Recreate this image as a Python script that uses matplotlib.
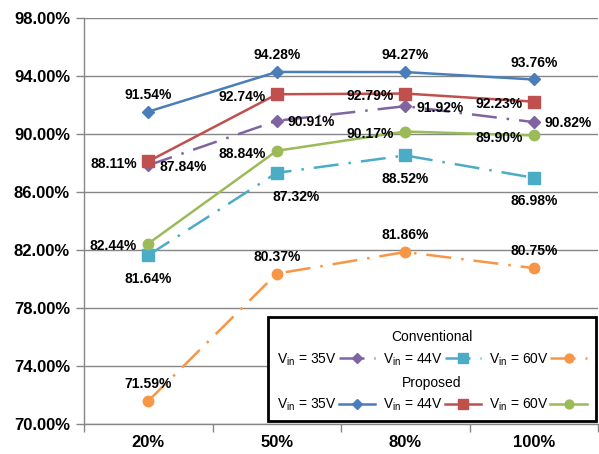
import matplotlib
matplotlib.use("Agg")
import matplotlib.pyplot as plt
from matplotlib.lines import Line2D
from matplotlib.patches import Rectangle

plt.rcParams['font.family'] = ['Liberation Sans', 'DejaVu Sans']
plt.rcParams['mathtext.fontset'] = 'custom'
plt.rcParams['mathtext.rm'] = 'Liberation Sans'
plt.rcParams['mathtext.it'] = 'Liberation Sans'

loads = ["20%", "50%", "80%", "100%"]
yticks = [70, 74, 78, 82, 86, 90, 94, 98]

prop_35 = [91.54, 94.28, 94.27, 93.76]
prop_44 = [88.11, 92.74, 92.79, 92.23]
prop_60 = [82.44, 88.84, 90.17, 89.90]
conv_35 = [87.84, 90.91, 91.92, 90.82]
conv_44 = [81.64, 87.32, 88.52, 86.98]
conv_60 = [71.59, 80.37, 81.86, 80.75]

BLUE, RED, GREEN = "#4A7EBB", "#C0504D", "#9BBB59"
PURPLE, AQUA, ORANGE = "#8064A2", "#4BACC6", "#F79646"
DASHDOT = (0, (10, 4, 1, 4))

fig = plt.figure(figsize=(5.99, 4.54), dpi=100)
ax = fig.add_axes([84 / 599, 30 / 454, 514 / 599, 406 / 454])

x = list(range(len(loads)))

# series: values, colour, marker, marker size, linestyle, label placement
series = [
    (conv_60, ORANGE, "o", 7.5, DASHDOT, "above"),
    (conv_44, AQUA, "s", 8, DASHDOT, "below"),
    (conv_35, PURPLE, "D", 6, DASHDOT, "right"),
    (prop_60, GREEN, "o", 7.5, "-", "left"),
    (prop_44, RED, "s", 8, "-", "left"),
    (prop_35, BLUE, "D", 6, "-", "above"),
]

offsets = {
    "above": ((0, 7), "center", "bottom"),
    "below": ((0, -12), "center", "top"),
    "left": ((-8, -2), "right", "center"),
    "right": ((8, -1), "left", "center"),
}

handles = {}
for vals, col, mk, ms, ls, place in series:
    ax.plot(x, vals, color=col, marker=mk, markersize=ms, lw=1.8,
            linestyle=ls, zorder=3)
    handles[col] = (col, mk, ms, ls)
    (dx, dy), ha, va = offsets[place]
    for xi, v in zip(x, vals):
        ddx = dx
        if place == "below" and xi == 1:
            ddx = 14
        ax.annotate(f"{v:.2f}%", (xi, v), xytext=(ddx, dy),
                    textcoords="offset points", ha=ha, va=va,
                    fontsize=10, fontweight="bold", color="black", zorder=6)

ax.set_xlim(-0.5, 3.5)
ax.set_ylim(70, 98)
ax.set_yticks(yticks)
ax.set_yticklabels([f"{t:.2f}%" for t in yticks], fontsize=12, fontweight="bold")
ax.set_xticks(x)
ax.set_xticklabels(loads, fontsize=12, fontweight="bold")
ax.set_xticks([-0.5, 0.5, 1.5, 2.5, 3.5], minor=True)
ax.tick_params(axis="x", which="major", length=0, pad=8)
ax.tick_params(axis="x", which="minor", length=6, color="#868686", width=1)
ax.tick_params(axis="y", length=6, color="#868686", width=1, pad=4)

ax.grid(axis="y", color="#868686", lw=1)
ax.set_axisbelow(True)
for side in ("top", "right"):
    ax.spines[side].set_visible(False)
for side in ("left", "bottom"):
    ax.spines[side].set_color("#868686")
    ax.spines[side].set_linewidth(1)

# framed legend box holding both groups
box = Rectangle((0.358, 0.008), 0.639, 0.256, transform=ax.transAxes,
                facecolor="white", edgecolor="black", lw=2, zorder=7)
ax.add_patch(box)

def make_handles(cols):
    hs = []
    for c in cols:
        col, mk, ms, ls = handles[c]
        hs.append(Line2D([], [], color=col, marker=mk, markersize=ms * 0.85,
                         lw=1.8, linestyle=ls))
    return hs

labels = [r"V$_{\mathrm{in}}$ = 35V", r"V$_{\mathrm{in}}$ = 44V",
          r"V$_{\mathrm{in}}$ = 60V"]

common = dict(ncol=3, frameon=False, markerfirst=False, fontsize=10,
              title_fontsize=10, handlelength=2.6, handletextpad=0.15,
              columnspacing=0.55, borderaxespad=0, loc="center")

leg1 = ax.legend(make_handles([PURPLE, AQUA, ORANGE]), labels,
                 title="Conventional",
                 bbox_to_anchor=(0.677, 0.185), bbox_transform=ax.transAxes,
                 **common)
leg1.set_zorder(8)
ax.add_artist(leg1)
leg2 = ax.legend(make_handles([BLUE, RED, GREEN]), labels,
                 title="Proposed",
                 bbox_to_anchor=(0.677, 0.072), bbox_transform=ax.transAxes,
                 **common)
leg2.set_zorder(8)

fig.savefig("out.png", dpi=100)
